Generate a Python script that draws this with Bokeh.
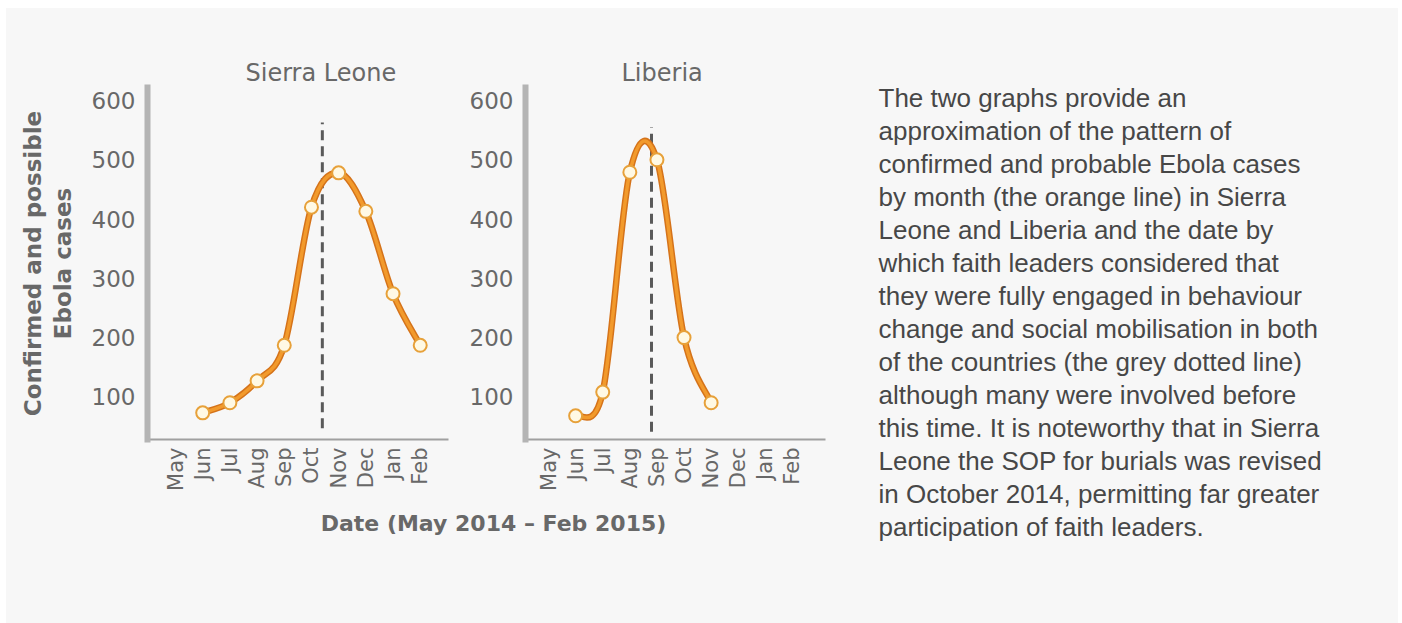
import math
from bokeh.plotting import figure
from bokeh.models import Range1d, FixedTicker, Label
from bokeh.layouts import row, column
from bokeh.embed import file_html
from bokeh.resources import INLINE

# ---------------- data ----------------
months = ["May", "Jun", "Jul", "Aug", "Sep", "Oct", "Nov", "Dec", "Jan", "Feb"]
y_ticks = [100, 200, 300, 400, 500, 600]

sl_title = "Sierra Leone"
sl_months = ["Jun", "Jul", "Aug", "Sep", "Oct", "Nov", "Dec", "Jan", "Feb"]
sl_cases = [73, 90, 127, 187, 420, 478, 413, 274, 187]
sl_engaged = 5.4          # month index when faith leaders were fully engaged

lb_title = "Liberia"
lb_months = ["Jun", "Jul", "Aug", "Sep", "Oct", "Nov"]
lb_cases = [68, 108, 479, 500, 200, 90]
lb_engaged = 3.8

y_title = "Confirmed and possible\nEbola cases"
x_title = "Date (May 2014 \u2013 Feb 2015)"

paragraph = [
    "The two graphs provide an",
    "approximation of the pattern of",
    "confirmed and probable Ebola cases",
    "by month (the orange line) in Sierra",
    "Leone and Liberia and the date by",
    "which faith leaders considered that",
    "they were fully engaged in behaviour",
    "change and social mobilisation in both",
    "of the countries (the grey dotted line)",
    "although many were involved before",
    "this time. It is noteworthy that in Sierra",
    "Leone the SOP for burials was revised",
    "in October 2014, permitting far greater",
    "participation of faith leaders.",
]

# ---------------- style ----------------
BG = "#F7F7F7"
GREY_TXT = "#686868"
FONT = "DejaVu Sans"


def catmull_bezier(xs, ys):
    px = [xs[0]] + list(xs) + [xs[-1]]
    py = [ys[0]] + list(ys) + [ys[-1]]
    d = dict(x0=[], y0=[], x1=[], y1=[], cx0=[], cy0=[], cx1=[], cy1=[])
    for j in range(len(xs) - 1):
        d["x0"].append(px[j + 1]); d["y0"].append(py[j + 1])
        d["x1"].append(px[j + 2]); d["y1"].append(py[j + 2])
        d["cx0"].append(px[j + 1] + (px[j + 2] - px[j]) / 6.0)
        d["cy0"].append(py[j + 1] + (py[j + 2] - py[j]) / 6.0)
        d["cx1"].append(px[j + 2] - (px[j + 3] - px[j + 1]) / 6.0)
        d["cy1"].append(py[j + 2] - (py[j + 3] - py[j + 1]) / 6.0)
    return d


def make_panel(title, mlist, cases, engaged, span, width, xr, mb_left, mb_right,
               title_offset, ylabel=None):
    p = figure(width=width, height=497, x_range=Range1d(*xr), y_range=Range1d(28, 622),
               output_backend="svg", toolbar_location=None,
               min_border_left=mb_left, min_border_right=mb_right,
               min_border_top=79, min_border_bottom=66)
    p.background_fill_color = BG
    p.border_fill_color = BG
    p.outline_line_color = None
    p.grid.visible = False

    p.title.text = title
    p.title.text_font = FONT
    p.title.text_font_size = "24px"
    p.title.text_font_style = "normal"
    p.title.text_color = GREY_TXT
    p.title.align = "left"
    p.title.offset = title_offset
    p.title.standoff = 2

    # y axis: thick grey bar
    ya = p.yaxis[0]
    ya.ticker = FixedTicker(ticks=y_ticks)
    ya.axis_line_width = 6
    ya.axis_line_color = "#B4B4B4"
    ya.axis_line_cap = "square"
    ya.major_tick_line_color = None
    ya.minor_tick_line_color = None
    ya.major_tick_out = 0
    ya.major_tick_in = 0
    ya.minor_tick_out = 0
    ya.major_label_standoff = 12
    ya.major_label_text_font = FONT
    ya.major_label_text_font_size = "23px"
    ya.major_label_text_color = GREY_TXT
    if ylabel:
        ya.axis_label = ylabel
        ya.axis_label_text_font = FONT
        ya.axis_label_text_font_size = "23px"
        ya.axis_label_text_font_style = "bold"
        ya.axis_label_text_color = GREY_TXT
        ya.axis_label_text_line_height = 1.13
        ya.axis_label_standoff = 13

    # x axis: thin line with month labels reading bottom-to-top
    xa = p.xaxis[0]
    xa.ticker = FixedTicker(ticks=list(range(len(months))))
    xa.major_label_overrides = {i: m for i, m in enumerate(months)}
    xa.axis_line_width = 2
    xa.axis_line_color = "#A0A0A0"
    xa.major_tick_line_color = None
    xa.minor_tick_line_color = None
    xa.major_tick_out = 0
    xa.major_tick_in = 0
    xa.minor_tick_out = 0
    xa.major_label_orientation = math.pi / 2
    xa.major_label_standoff = 8
    xa.major_label_text_font = FONT
    xa.major_label_text_font_size = "21px"
    xa.major_label_text_color = GREY_TXT

    # engagement date (dashed grey line)
    p.segment(x0=[engaged], y0=[span[0]], x1=[engaged], y1=[span[1]],
              line_color="#5A5A5A", line_width=3, line_dash="10 6")

    xs = [months.index(m) for m in mlist]
    bz = catmull_bezier(xs, cases)
    p.bezier(source=bz, x0="x0", y0="y0", x1="x1", y1="y1",
             cx0="cx0", cy0="cy0", cx1="cx1", cy1="cy1",
             line_color="#D5731A", line_width=6.5)
    p.bezier(source=bz, x0="x0", y0="y0", x1="x1", y1="y1",
             cx0="cx0", cy0="cy0", cx1="cx1", cy1="cy1",
             line_color="#F29A2C", line_width=3.5)
    p.scatter(xs, cases, size=13, fill_color="#FFF9E4", line_color="#E7A13A",
              line_width=2)
    return p


sl = make_panel(sl_title, sl_months, sl_cases, sl_engaged, (47, 563), 454,
                (-1.03, 10.04), 141, 12, 98, ylabel=y_title)
lb = make_panel(lb_title, lb_months, lb_cases, lb_engaged, (41, 555), 390,
                (-0.85, 10.22), 65, 25, 96)

# shared x-axis title strip
dt = figure(width=844, height=118, x_range=Range1d(0, 844), y_range=Range1d(0, 118),
            x_axis_type=None, y_axis_type=None, output_backend="svg",
            toolbar_location=None, min_border=0)
dt.background_fill_color = BG
dt.border_fill_color = BG
dt.outline_line_color = None
dt.grid.visible = False
dt.add_layout(Label(x=487, y=100, text=x_title, text_font=FONT, text_font_size="22px",
                    text_font_style="bold", text_color=GREY_TXT, text_align="center",
                    text_baseline="middle"))

# paragraph on the right
tx = figure(width=548, height=615, x_range=Range1d(0, 548), y_range=Range1d(0, 615),
            x_axis_type=None, y_axis_type=None, output_backend="svg",
            toolbar_location=None, min_border=0)
tx.background_fill_color = BG
tx.border_fill_color = BG
tx.outline_line_color = None
tx.grid.visible = False
for i, line in enumerate(paragraph):
    tx.add_layout(Label(x=28, y=526 - 33 * i, text=line, text_font="Liberation Sans",
                        text_font_size="26px", text_color="#474747",
                        text_align="left", text_baseline="middle"))

bgstyle = {"background-color": BG}
layout = row(column(row(sl, lb, styles=bgstyle), dt, styles=bgstyle), tx,
             margin=(8, 4, 0, 6), styles=bgstyle)
open("out.html", "w").write(file_html(layout, INLINE))
